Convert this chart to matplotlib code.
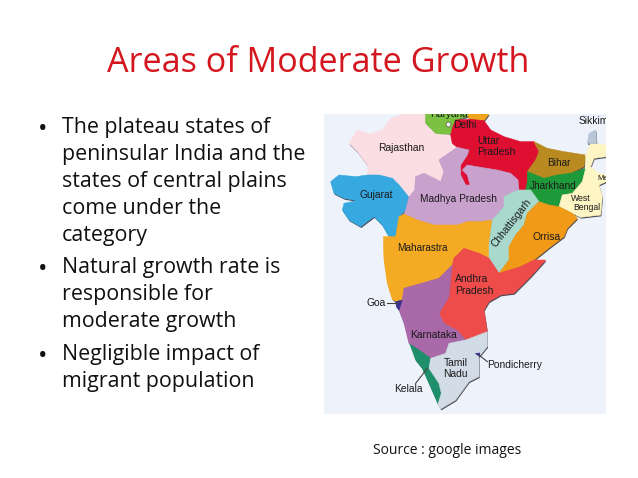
import matplotlib
matplotlib.use("Agg")
from matplotlib import pyplot as plt
from matplotlib.patches import Polygon

W, H = 638, 478

TITLE = "Areas of Moderate Growth"
# text, has a bullet, baseline in pixels
BODY_LINES = [
    ("The plateau states of", True, 134),
    ("peninsular India and the", False, 161),
    ("states of central plains", False, 188),
    ("come under the", False, 215),
    ("category", False, 242),
    ("Natural growth rate is", True, 274),
    ("responsible for", False, 301),
    ("moderate growth", False, 328),
    ("Negligible impact of", True, 361),
    ("migrant population", False, 388),
]
SOURCE = "Source : google images"

# State outlines (x right, y down, 3 units per pixel)
RAJASTHAN = [(305,12),(305,40),(335,70),(380,75),(385,100),(400,112),(345,150),(360,185),(350,215),(300,190),(275,200),(272,240),(255,262),(225,225),(205,205),(165,195),(130,195),(130,165),(100,125),(75,100),(100,60),(140,72),(175,60),(200,25),(240,12)]
HARYANA = [(305,12),(435,12),(430,20),(395,30),(383,55),(385,72),(350,72),(335,70),(305,40)]
UTTARAKHAND = [(435,12),(495,12),(480,32),(440,28),(430,20)]
UTTAR_PRADESH = [(395,30),(440,28),(480,32),(500,60),(540,80),(590,95),(630,95),(645,125),(635,150),(610,185),(615,215),(605,240),(585,240),(582,210),(560,190),(520,180),(490,178),(470,172),(430,165),(415,180),(430,195),(438,225),(425,225),(410,195),(410,165),(430,135),(435,120),(400,112),(385,100),(380,75),(385,55)]
BIHAR = [(630,95),(670,115),(720,125),(785,135),(780,170),(740,190),(700,195),(660,205),(610,185),(635,150),(645,125)]
JHARKHAND = [(610,215),(610,185),(660,205),(700,195),(740,190),(785,175),(775,215),(745,250),(715,255),(705,290),(675,285),(645,275),(620,240),(605,240)]
WEST_BENGAL = [(785,135),(800,100),(846,105),(846,140),(810,145),(800,170),(825,190),(846,195),(846,215),(825,225),(835,260),(830,315),(770,322),(745,310),(705,290),(715,255),(745,250),(775,215),(785,175)]
SIKKIM = [(795,70),(815,60),(818,100),(790,100)]
GUJARAT = [(20,215),(45,195),(95,200),(130,195),(165,195),(205,205),(225,225),(255,262),(245,300),(225,320),(215,380),(195,380),(175,345),(150,320),(110,350),(75,330),(55,300),(60,280),(100,272),(60,265),(30,250)]
MADHYA_PRADESH = [(345,150),(400,112),(435,120),(430,135),(410,165),(410,195),(425,225),(438,225),(430,195),(415,180),(430,165),(470,172),(520,180),(560,190),(582,210),(585,240),(570,245),(540,260),(540,290),(505,330),(470,335),(430,335),(400,345),(330,345),(280,330),(240,312),(245,300),(255,262),(272,240),(275,200),(300,190),(350,215),(360,185)]
CHHATTISGARH = [(585,240),(620,240),(645,275),(610,310),(600,345),(575,375),(555,410),(555,450),(525,490),(495,445),(495,405),(505,330),(540,290),(540,260),(570,245)]
ORISSA = [(645,275),(675,285),(705,290),(745,310),(760,325),(730,355),(720,380),(680,410),(630,450),(590,470),(525,490),(555,450),(555,410),(575,375),(600,345),(610,310)]
MAHARASHTRA = [(225,320),(240,312),(280,330),(330,345),(400,345),(430,335),(470,335),(505,330),(495,405),(495,445),(465,430),(420,415),(390,445),(385,465),(345,505),(240,535),(235,570),(215,575),(205,568),(190,520),(180,450),(178,380),(195,380),(215,380)]
ANDHRA_PRADESH = [(385,465),(390,445),(420,415),(465,430),(495,445),(525,490),(590,470),(630,450),(665,450),(620,500),(570,550),(530,555),(495,575),(480,600),(490,665),(425,690),(400,662),(360,640),(345,610),(375,560),(380,500)]
KARNATAKA = [(385,465),(380,500),(375,560),(345,610),(360,640),(400,662),(425,690),(375,700),(365,730),(320,745),(285,720),(255,700),(240,640),(225,600),(235,570),(240,535),(345,505)]
GOA = [(215,575),(235,570),(225,600),(217,590)]
KERALA = [(258,703),(285,720),(320,745),(315,775),(345,820),(352,850),(342,882),(315,820),(295,775),(275,750)]
TAMIL_NADU = [(320,745),(365,730),(375,700),(425,690),(490,665),(490,710),(465,740),(465,800),(435,815),(395,870),(350,897),(342,882),(352,850),(345,820),(315,775)]

STATES = [
    (RAJASTHAN, "#fbdde4"), (HARYANA, "#7cc242"), (UTTARAKHAND, "#eea41c"),
    (UTTAR_PRADESH, "#df0f32"), (BIHAR, "#b98a20"), (JHARKHAND, "#1f9a3a"),
    (WEST_BENGAL, "#fdf5c3"), (SIKKIM, "#b9c6d8"), (GUJARAT, "#36a9e1"),
    (MADHYA_PRADESH, "#c9a1cd"), (MAHARASHTRA, "#f5aa24"),
    (CHHATTISGARH, "#a9d9cd"), (ORISSA, "#f09a17"),
    (ANDHRA_PRADESH, "#ee4b4b"), (KARNATAKA, "#a969a9"), (GOA, "#40308f"),
    (KERALA, "#1f8f6b"), (TAMIL_NADU, "#d2dce6"),
]

# text, x, y, size, rotation
MAP_LABELS = [
    ("Haryana", 375, 11, 7.2, 0), ("Delhi", 423, 44, 7.4, 0),
    ("Sikkim", 808, 33, 7.4, 0), ("Rajasthan", 233, 113, 7.4, 0),
    ("Uttar", 492, 92, 7.4, 0), ("Pradesh", 516, 127, 7.4, 0),
    ("Bihar", 704, 158, 7.2, 0), ("Gujarat", 158, 256, 7.4, 0),
    ("Jharkhand", 686, 229, 7.2, 0), ("Madhya Pradesh", 405, 266, 7.3, 0),
    ("West", 769, 265, 6.2, 0), ("Bengal", 787, 294, 6.2, 0),
    ("Me", 835, 207, 5.5, 0), ("Orrisa", 667, 380, 7.4, 0),
    ("Maharastra", 295, 414, 7.2, 0), ("Chhattisgarh", 564, 338, 7.4, 52),
    ("Andhra", 443, 508, 7.4, 0), ("Pradesh", 451, 542, 7.4, 0),
    ("Goa", 157, 578, 7.4, 0), ("Karnataka", 329, 674, 7.4, 0),
    ("Tamil", 394, 759, 7.4, 0), ("Nadu", 394, 793, 7.4, 0),
    ("Pondicherry", 573, 765, 7.4, 0), ("Kelala", 252, 838, 7.4, 0),
]

# leader lines (xs, ys) and the small Pondicherry mark
GOA_LEADER = ([190, 218], [580, 580])
PONDICHERRY_LEADER = ([465, 490], [735, 755])
KELALA_LEADER = ([310, 275], [775, 820])
PONDICHERRY_DOT = [(452, 730), (468, 728), (468, 742)]


def main():
    fig = plt.figure(figsize=(W / 100, H / 100), dpi=100, facecolor="white")
    ax = fig.add_axes([0, 0, 1, 1])
    ax.set_xlim(0, W)
    ax.set_ylim(H, 0)
    ax.axis("off")

    ax.text(318, 72, TITLE, color="#d4161f", fontsize=24.6, family="Open Sans",
            ha="center", va="baseline")
    for line, bullet, y in BODY_LINES:
        if bullet:
            ax.text(42.5, y - 4.5, "•", fontsize=18, family="Open Sans",
                    ha="center", va="center", color="#111111")
        ax.text(62, y - 1, line, fontsize=15.4, family="Open Sans", va="baseline", color="#111111")
    ax.text(373, 454, SOURCE, fontsize=10, family="Open Sans", va="baseline", color="#111111")

    # map panel, placed by pixels
    m = fig.add_axes([324 / W, 1 - 414 / H, 282 / W, 300 / H])
    m.set_xlim(0, 846)
    m.set_ylim(912, 12)
    m.set_facecolor("#eef3fb")
    m.set_xticks([])
    m.set_yticks([])
    for s in m.spines.values():
        s.set_visible(False)

    for pts, _ in STATES:
        shadow = [(x + 2, y + 4) for x, y in pts]
        m.add_patch(Polygon(shadow, closed=True, fc="#4b4b55", ec="none"))
    for pts, col in STATES:
        m.add_patch(Polygon(pts, closed=True, fc=col, ec=col, lw=0.4))

    m.add_patch(Polygon(PONDICHERRY_DOT, closed=True, fc="#40308f", ec="none"))
    for xs, ys in (GOA_LEADER, PONDICHERRY_LEADER, KELALA_LEADER):
        m.plot(xs, ys, color="#444444", lw=0.8)
    m.plot([373], [43], "o", mfc="white", mec="#555555", ms=3.5, mew=0.5)

    for txt, x, y, size, rot in MAP_LABELS:
        m.text(x, y, txt, fontsize=size, family="Liberation Sans", ha="center",
               va="center", rotation=rot, color="#1a1a1a", clip_on=True)

    fig.savefig("out.png", dpi=100)


if __name__ == "__main__":
    main()
